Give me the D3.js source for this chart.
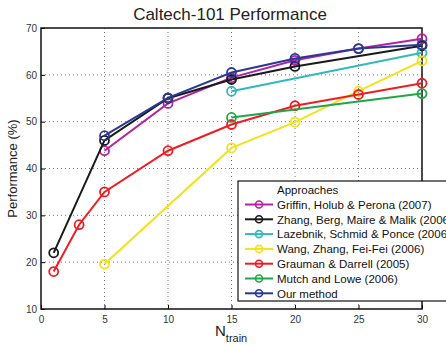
<!DOCTYPE html>
<html>
<head>
<meta charset="utf-8">
<script src="https://cdn.jsdelivr.net/npm/d3@7"></script>
<style>
  body { margin: 0; background: #fff; }
  svg { display: block; font-family: "Liberation Sans", Arial, sans-serif; }
</style>
</head>
<body>
<div id="chart"></div>
<script>
// Caltech-101 performance vs. number of training images
var WIDTH  = 446;
var HEIGHT = 346;
var margin = {top: 28, right: 24, bottom: 37, left: 41};

var xTicks = [0, 5, 10, 15, 20, 25, 30];
var yTicks = [10, 20, 30, 40, 50, 60, 70];

var names = ['Griffin, Holub & Perona (2007)', 'Zhang, Berg, Maire & Malik (2006)',
             'Lazebnik, Schmid & Ponce (2006)', 'Wang, Zhang, Fei-Fei (2006)',
             'Grauman & Darrell (2005)', 'Mutch and Lowe (2006)', 'Our method'];
var colors = ['#b5239f', '#1a1a1a', '#33b9b9', '#f2e21c', '#ef1c24', '#1fa64a', '#2b3894'];

var griffinX = [5, 10, 15, 20, 25, 30];
var griffinY = [43.8, 53.9, 59.4, 63.1, 65.6, 67.7];
var zhangX = [1, 5, 10, 15, 20, 30];
var zhangY = [22.0, 46.0, 55.0, 59.0, 61.8, 66.2];
var lazebnikX = [15, 30];
var lazebnikY = [56.5, 64.7];
var wangX = [5, 15, 20, 25, 30];
var wangY = [19.6, 44.4, 49.9, 56.5, 63.0];
var graumanX = [1, 3, 5, 10, 15, 20, 25, 30];
var graumanY = [18.0, 28.0, 35.0, 43.8, 49.4, 53.4, 55.8, 58.2];
var mutchX = [15, 30];
var mutchY = [50.9, 56.0];
var oursX = [5, 10, 15, 20, 25, 30];
var oursY = [47.0, 55.1, 60.5, 63.5, 65.6, 66.4];

var seriesX = [griffinX, zhangX, lazebnikX, wangX, graumanX, mutchX, oursX];
var seriesY = [griffinY, zhangY, lazebnikY, wangY, graumanY, mutchY, oursY];

var svg = d3.select('#chart').append('svg')
            .attr('width', WIDTH)
            .attr('height', HEIGHT);

var x = d3.scaleLinear().domain([0, 30]).range([margin.left, WIDTH - margin.right]);
var y = d3.scaleLinear().domain([10, 70]).range([HEIGHT - margin.bottom, margin.top]);

// grid (dotted)
var grid = svg.append('g');
grid.selectAll('line.gx')
    .data(xTicks.slice(1, -1))
    .enter().append('line')
    .attr('x1', d => x(d)).attr('x2', d => x(d))
    .attr('y1', y(10)).attr('y2', y(70))
    .attr('stroke', '#777').attr('stroke-width', 1)
    .attr('stroke-dasharray', '1,3');
grid.selectAll('line.gy')
    .data(yTicks.slice(1, -1))
    .enter().append('line')
    .attr('y1', d => y(d)).attr('y2', d => y(d))
    .attr('x1', x(0)).attr('x2', x(30))
    .attr('stroke', '#777').attr('stroke-width', 1)
    .attr('stroke-dasharray', '1,3');

// axes with inner ticks
var xAxis = svg.append('g')
    .attr('transform', 'translate(0,' + y(10) + ')')
    .call(d3.axisBottom(x).tickValues(xTicks).tickSizeInner(-4).tickSizeOuter(0).tickPadding(7));
var yAxis = svg.append('g')
    .attr('transform', 'translate(' + x(0) + ',0)')
    .call(d3.axisLeft(y).tickValues(yTicks).tickSizeInner(-4).tickSizeOuter(0).tickPadding(4));
[xAxis, yAxis].forEach(a => {
  a.selectAll('text').attr('fill', '#333').style('font-size', '10px')
   .style('font-family', '"Liberation Sans", Arial, sans-serif');
  a.select('.domain').remove();
});

// box
svg.append('rect')
   .attr('x', x(0)).attr('y', y(70))
   .attr('width', x(30) - x(0)).attr('height', y(10) - y(70))
   .attr('fill', 'none').attr('stroke', '#111').attr('stroke-width', 1.5);

// lines and markers
var line = d3.line().x(d => x(d[0])).y(d => y(d[1]));
seriesX.forEach((xs, i) => {
  var pts = xs.map((v, j) => [v, seriesY[i][j]]);
  var g = svg.append('g');
  g.append('path')
   .attr('d', line(pts))
   .attr('fill', 'none')
   .attr('stroke', colors[i])
   .attr('stroke-width', 2);
  g.selectAll('circle')
   .data(pts)
   .enter().append('circle')
   .attr('cx', d => x(d[0]))
   .attr('cy', d => y(d[1]))
   .attr('r', 4.5)
   .attr('fill', 'none')
   .attr('stroke', colors[i])
   .attr('stroke-width', 1.8);
});

// legend (runs past the right edge, as in the original figure)
var lg = svg.append('g').attr('transform', 'translate(238,181)');
lg.append('rect')
  .attr('width', 220).attr('height', 120)
  .attr('fill', '#fff').attr('stroke', '#111').attr('stroke-width', 1.2);
lg.append('text')
  .attr('x', 39).attr('y', 13)
  .attr('font-size', '11.5px').attr('fill', '#111')
  .text('Approaches');
names.forEach((n, i) => {
  var cy = 23.5 + i * 14.8;
  lg.append('line')
    .attr('x1', 7).attr('x2', 35)
    .attr('y1', cy).attr('y2', cy)
    .attr('stroke', colors[i]).attr('stroke-width', 2);
  lg.append('circle')
    .attr('cx', 21).attr('cy', cy).attr('r', 3.5)
    .attr('fill', 'none').attr('stroke', colors[i]).attr('stroke-width', 1.6);
  lg.append('text')
    .attr('x', 39).attr('y', cy + 4.2)
    .attr('font-size', '11.5px').attr('fill', '#111')
    .text(n);
});

// title
svg.append('text')
   .attr('x', 230).attr('y', 20)
   .attr('text-anchor', 'middle')
   .attr('font-size', '17px').attr('fill', '#222')
   .text('Caltech-101 Performance');

// y label
svg.append('text')
   .attr('transform', 'translate(17,' + y(40) + ') rotate(-90)')
   .attr('text-anchor', 'middle')
   .attr('font-size', '13px').attr('fill', '#222')
   .text('Performance (%)');

// x label with subscript
var xl = svg.append('text')
   .attr('x', 215).attr('y', 336)
   .attr('fill', '#222');
xl.append('tspan').attr('font-size', '15px').text('N');
xl.append('tspan').attr('font-size', '11px').attr('dy', 6).text('train');
</script>
</body>
</html>
